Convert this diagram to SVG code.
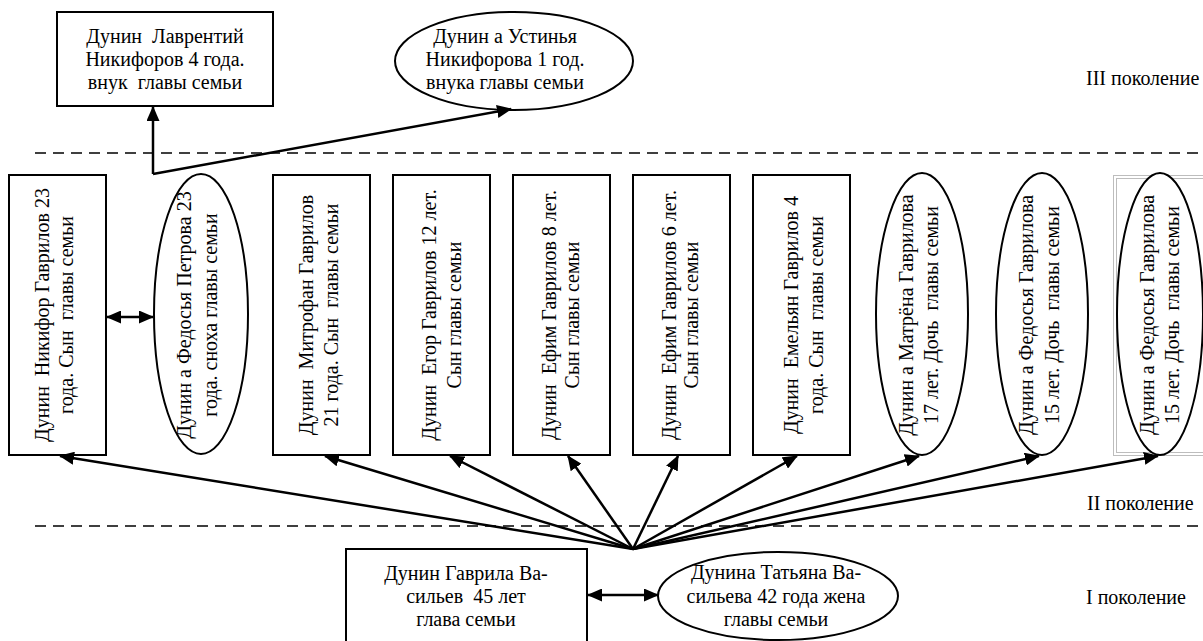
<svg xmlns="http://www.w3.org/2000/svg" width="1203" height="641" viewBox="0 0 1203 641" xml:space="preserve">
<defs>
<style>
.box{fill:#fff;stroke:#000;stroke-width:2}
.t{font-family:"Liberation Serif","Times New Roman",serif;font-size:20px;fill:#000;white-space:pre;text-anchor:middle}
.lbl{font-family:"Liberation Serif","Times New Roman",serif;font-size:20px;fill:#000;white-space:pre}
.con{stroke:#000;stroke-width:2.5;fill:none}
.dash{stroke:#000;stroke-width:1.5;stroke-dasharray:11 7;fill:none}
.frame{fill:none;stroke:#bdbdbd;stroke-width:1}
</style>
<marker id="ah" markerUnits="userSpaceOnUse" viewBox="0 0 15 13" markerWidth="15" markerHeight="13" refX="14" refY="6.5" orient="auto-start-reverse">
<path d="M0,0 L15,6.5 L0,13 z" fill="#000"/>
</marker>
</defs>
<rect x="0" y="0" width="1203" height="641" fill="#fff"/>

<!-- generation separators -->
<g id="separators">
<line class="dash" x1="35" y1="153" x2="1203" y2="153"/>
<line class="dash" x1="35" y1="526" x2="1203" y2="526"/>
</g>

<!-- generation labels -->
<g id="labels">
<text class="lbl" x="1086" y="85">III поколение</text>
<text class="lbl" x="1087" y="510">II поколение</text>
<text class="lbl" x="1086" y="604">I поколение</text>
</g>

<!-- third generation -->
<g id="lavrentiy">
<rect class="box" x="57" y="12" width="216" height="94"/>
<text class="t"><tspan x="165" y="43">Дунин  Лаврентий</tspan><tspan x="165" y="66">Никифоров 4 года.</tspan><tspan x="165" y="89">внук  главы семьи</tspan></text>
</g>
<g id="ustinya">
<ellipse class="box" cx="514" cy="61" rx="119" ry="49"/>
<text class="t"><tspan x="505" y="43">Дунин а Устинья</tspan><tspan x="505" y="66">Никифорова 1 год.</tspan><tspan x="505" y="89">внука главы семьи</tspan></text>
</g>

<!-- second generation -->
<g id="nikifor">
<rect class="box" x="9" y="175" width="97" height="280"/>
<text class="t" transform="translate(49,315) rotate(-90)"><tspan x="0" y="0">Дунин  Никифор Гаврилов 23</tspan><tspan x="0" y="24">года. Сын  главы семьи</tspan></text>
</g>
<g id="fedosya-petrova">
<ellipse class="box" cx="201" cy="314" rx="47" ry="140"/>
<text class="t" transform="translate(191,315) rotate(-90)"><tspan x="0" y="0">Дунин а Федосья Петрова 23</tspan><tspan x="0" y="26">года. сноха главы семьи</tspan></text>
</g>
<g id="mitrofan">
<rect class="box" x="273" y="175" width="97" height="280"/>
<text class="t" transform="translate(313,315) rotate(-90)"><tspan x="0" y="0">Дунин  Митрофан Гаврилов</tspan><tspan x="0" y="25">21 года. Сын  главы семьи</tspan></text>
</g>
<g id="egor">
<rect class="box" x="393" y="175" width="97" height="280"/>
<text class="t" transform="translate(436,315) rotate(-90)"><tspan x="0" y="0">Дунин  Егор Гаврилов 12 лет.</tspan><tspan x="0" y="25">Сын главы семьи</tspan></text>
</g>
<g id="efim-8">
<rect class="box" x="513" y="175" width="97" height="280"/>
<text class="t" transform="translate(556,315) rotate(-90)"><tspan x="0" y="0">Дунин  Ефим Гаврилов 8 лет.</tspan><tspan x="0" y="23">Сын главы семьи</tspan></text>
</g>
<g id="efim-6">
<rect class="box" x="633" y="175" width="97" height="280"/>
<text class="t" transform="translate(676,315) rotate(-90)"><tspan x="0" y="0">Дунин  Ефим Гаврилов 6 лет.</tspan><tspan x="0" y="22">Сын главы семьи</tspan></text>
</g>
<g id="emelyan">
<rect class="box" x="753" y="175" width="97" height="280"/>
<text class="t" transform="translate(798,315) rotate(-90)"><tspan x="0" y="0">Дунин  Емельян Гаврилов 4</tspan><tspan x="0" y="25">года. Сын  главы семьи</tspan></text>
</g>
<g id="matryona">
<ellipse class="box" cx="922" cy="314" rx="46" ry="141"/>
<text class="t" transform="translate(913,315) rotate(-90)"><tspan x="0" y="0">Дунин а Матрёна Гаврилова</tspan><tspan x="0" y="25">17 лет. Дочь  главы семьи</tspan></text>
</g>
<g id="fedosya-15a">
<ellipse class="box" cx="1042" cy="314" rx="46" ry="141"/>
<text class="t" transform="translate(1033,315) rotate(-90)"><tspan x="0" y="0">Дунин а Федосья Гаврилова</tspan><tspan x="0" y="26">15 лет. Дочь  главы семьи</tspan></text>
</g>
<g id="fedosya-15b">
<rect class="frame" x="1113.5" y="175.5" width="100" height="280"/>
<rect class="frame" x="1116.5" y="178.5" width="100" height="274"/>
<ellipse class="box" cx="1160" cy="314" rx="43" ry="141"/>
<text class="t" transform="translate(1154,315) rotate(-90)"><tspan x="0" y="0">Дунин а Федосья Гаврилова</tspan><tspan x="0" y="25">15 лет. Дочь  главы семьи</tspan></text>
</g>

<!-- first generation -->
<g id="gavrila">
<rect class="box" x="346" y="549" width="241" height="100"/>
<text class="t"><tspan x="466" y="580">Дунин Гаврила Ва-</tspan><tspan x="466" y="603">сильев  45 лет</tspan><tspan x="466" y="626">глава семьи</tspan></text>
</g>
<g id="tatyana">
<ellipse class="box" cx="778" cy="596" rx="120" ry="44"/>
<text class="t"><tspan x="776" y="579">Дунина Татьяна Ва-</tspan><tspan x="776" y="603">сильева 42 года жена</tspan><tspan x="776" y="626">главы семьи</tspan></text>
</g>

<!-- connectors -->
<g id="connectors">
<line class="con" x1="153" y1="174" x2="153" y2="107" marker-end="url(#ah)"/>
<line class="con" x1="153" y1="174" x2="511" y2="109" marker-end="url(#ah)"/>
<line class="con" x1="107" y1="317" x2="153" y2="317" marker-start="url(#ah)" marker-end="url(#ah)"/>
<line class="con" x1="588" y1="595" x2="658" y2="595" marker-start="url(#ah)" marker-end="url(#ah)"/>
<line class="con" x1="633" y1="549" x2="60" y2="456" marker-end="url(#ah)"/>
<line class="con" x1="633" y1="549" x2="325" y2="456" marker-end="url(#ah)"/>
<line class="con" x1="633" y1="549" x2="450" y2="456" marker-end="url(#ah)"/>
<line class="con" x1="633" y1="549" x2="568" y2="456" marker-end="url(#ah)"/>
<line class="con" x1="633" y1="549" x2="678" y2="456" marker-end="url(#ah)"/>
<line class="con" x1="633" y1="549" x2="797" y2="456" marker-end="url(#ah)"/>
<line class="con" x1="633" y1="549" x2="919" y2="456" marker-end="url(#ah)"/>
<line class="con" x1="633" y1="549" x2="1039" y2="456" marker-end="url(#ah)"/>
<line class="con" x1="633" y1="549" x2="1158" y2="456" marker-end="url(#ah)"/>
</g>
</svg>
